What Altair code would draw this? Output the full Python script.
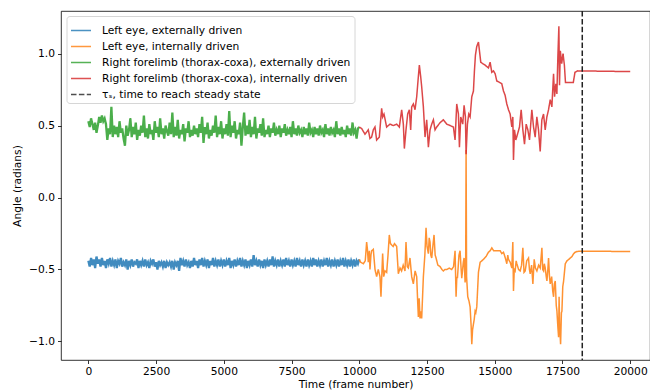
import altair as alt
import pandas as pd

SERIES = [
    "Left eye, externally driven",
    "Left eye, internally driven",
    "Right forelimb (thorax-coxa), externally driven",
    "Right forelimb (thorax-coxa), internally driven",
    "τₛ, time to reach steady state",
]
COLORS = ["#1f77b4", "#ff7f0e", "#2ca02c", "#d62728", "#222222"]
DASHES = [[1, 0], [1, 0], [1, 0], [1, 0], [5.5, 2.4]]

# externally driven part, sampled every 50 frames from 0 to 10000
ext_frames = list(range(0, 10001, 50))

green_ext = [
    0.53, 0.49, 0.55, 0.51, 0.47, 0.52, 0.45, 0.50, 0.56, 0.52, 0.57, 0.53, 0.55, 0.51, 0.40, 0.48, 0.44, 0.63, 0.42, 0.50,
    0.44, 0.49, 0.42, 0.53, 0.45, 0.48, 0.41, 0.36, 0.50, 0.43, 0.47, 0.55, 0.42, 0.49, 0.44, 0.52, 0.40, 0.47, 0.43, 0.50,
    0.45, 0.57, 0.42, 0.48, 0.41, 0.51, 0.44, 0.47, 0.40, 0.53, 0.45, 0.49, 0.42, 0.55, 0.44, 0.48, 0.41, 0.50, 0.46, 0.43,
    0.52, 0.44, 0.59, 0.42, 0.49, 0.43, 0.54, 0.41, 0.47, 0.44, 0.51, 0.39, 0.48, 0.45, 0.53, 0.42, 0.47, 0.43, 0.50, 0.44,
    0.48, 0.42, 0.51, 0.45, 0.56, 0.38, 0.49, 0.44, 0.52, 0.41, 0.47, 0.43, 0.50, 0.45, 0.57, 0.42, 0.49, 0.44, 0.53, 0.41,
    0.48, 0.44, 0.51, 0.43, 0.60, 0.42, 0.50, 0.45, 0.53, 0.41, 0.47, 0.44, 0.52, 0.36, 0.49, 0.59, 0.43, 0.50, 0.44, 0.54,
    0.42, 0.49, 0.44, 0.56, 0.41, 0.48, 0.45, 0.51, 0.43, 0.55, 0.42, 0.47, 0.44, 0.50, 0.42, 0.48, 0.45, 0.52, 0.43, 0.47,
    0.44, 0.50, 0.42, 0.48, 0.45, 0.51, 0.43, 0.47, 0.44, 0.49, 0.42, 0.53, 0.44, 0.48, 0.43, 0.50, 0.45, 0.47, 0.42, 0.49,
    0.44, 0.48, 0.43, 0.52, 0.45, 0.47, 0.42, 0.49, 0.44, 0.48, 0.43, 0.50, 0.45, 0.47, 0.42, 0.51, 0.44, 0.48, 0.43, 0.49,
    0.45, 0.47, 0.42, 0.53, 0.44, 0.48, 0.43, 0.49, 0.44, 0.47, 0.42, 0.50, 0.44, 0.48, 0.43, 0.52, 0.45, 0.47, 0.41, 0.48,
    0.49,
]

blue_ext = [
    -0.44, -0.48, -0.42, -0.47, -0.43, -0.49, -0.41, -0.46, -0.43, -0.48, -0.42, -0.47, -0.44, -0.49, -0.43, -0.46, -0.42, -0.48, -0.44, -0.47,
    -0.43, -0.49, -0.44, -0.46, -0.42, -0.48, -0.45, -0.47, -0.43, -0.50, -0.44, -0.47, -0.43, -0.48, -0.45, -0.46, -0.43, -0.49, -0.44, -0.47,
    -0.44, -0.48, -0.43, -0.47, -0.45, -0.49, -0.44, -0.46, -0.43, -0.48, -0.45, -0.50, -0.44, -0.47, -0.45, -0.48, -0.44, -0.49, -0.45, -0.47,
    -0.45, -0.48, -0.44, -0.50, -0.45, -0.47, -0.44, -0.51, -0.42, -0.47, -0.44, -0.48, -0.43, -0.47, -0.45, -0.49, -0.44, -0.48, -0.42, -0.47,
    -0.44, -0.49, -0.43, -0.47, -0.42, -0.48, -0.44, -0.47, -0.43, -0.49, -0.44, -0.47, -0.42, -0.48, -0.44, -0.47, -0.43, -0.48, -0.44, -0.47,
    -0.43, -0.48, -0.44, -0.47, -0.42, -0.49, -0.44, -0.47, -0.43, -0.48, -0.44, -0.47, -0.42, -0.48, -0.44, -0.47, -0.43, -0.49, -0.44, -0.47,
    -0.43, -0.48, -0.40, -0.47, -0.44, -0.48, -0.43, -0.47, -0.44, -0.49, -0.43, -0.47, -0.44, -0.48, -0.43, -0.47, -0.41, -0.48, -0.44, -0.47,
    -0.43, -0.48, -0.44, -0.47, -0.43, -0.48, -0.42, -0.47, -0.44, -0.48, -0.43, -0.47, -0.44, -0.48, -0.42, -0.47, -0.44, -0.48, -0.43, -0.47,
    -0.44, -0.48, -0.43, -0.47, -0.44, -0.48, -0.42, -0.47, -0.43, -0.48, -0.44, -0.47, -0.43, -0.48, -0.44, -0.47, -0.42, -0.48, -0.44, -0.47,
    -0.43, -0.48, -0.44, -0.47, -0.43, -0.48, -0.44, -0.47, -0.42, -0.48, -0.44, -0.47, -0.43, -0.48, -0.44, -0.47, -0.43, -0.48, -0.44, -0.46,
    -0.43,
]

# internally driven part
orange_frames = [
    10000, 10050, 10150, 10220, 10271, 10300, 10332, 10370, 10394, 10430, 10455, 10517, 10580, 10640, 10700, 10763, 10800, 10862,
    10900, 10948, 11010, 11060, 11108, 11150, 11195, 11250, 11300, 11380, 11441, 11503, 11560, 11620, 11687, 11724, 11770, 11811,
    11870, 11934, 11995, 12060, 12119, 12150, 12180, 12210, 12242, 12270, 12303, 12365, 12420, 12464, 12500, 12550, 12580, 12611,
    12640, 12673, 12720, 12759, 12800, 12833, 12900, 12981, 13050, 13104, 13160, 13227, 13320, 13412, 13480, 13535, 13572, 13600,
    13622, 13680, 13720, 13760, 13782, 13840, 13868, 13905, 13925, 13942, 13960, 14004, 14050, 14090, 14130, 14152, 14180, 14213,
    14240, 14275, 14300, 14336, 14398, 14460, 14583, 14680, 14767, 14830, 14891, 14960, 15075, 15199, 15260, 15322, 15390, 15445,
    15480, 15507, 15570, 15630, 15667, 15691, 15720, 15753, 15790, 15815, 15880, 15938, 15990, 16037, 16080, 16123, 16180, 16246,
    16280, 16308, 16360, 16407, 16456, 16500, 16555, 16620, 16678, 16740, 16770, 16802, 16830, 16863, 16900, 16925, 16960, 16986,
    17020, 17048, 17100, 17140, 17171, 17200, 17233, 17270, 17295, 17330, 17356, 17375, 17393, 17430, 17460, 17479, 17510, 17541,
    17603, 17664, 17730, 17788, 17850, 17911, 17970, 18034, 18158, 20000,
]
orange_vals = [
    -0.43, -0.45, -0.46, -0.44, -0.31, -0.36, -0.45, -0.37, -0.50, -0.40, -0.37, -0.36, -0.50, -0.55, -0.50, -0.55, -0.69, -0.39,
    -0.55, -0.51, -0.52, -0.40, -0.26, -0.32, -0.33, -0.34, -0.32, -0.34, -0.53, -0.49, -0.51, -0.47, -0.51, -0.31, -0.48, -0.49,
    -0.42, -0.55, -0.60, -0.51, -0.55, -0.70, -0.83, -0.70, -0.84, -0.79, -0.84, -0.55, -0.40, -0.21, -0.34, -0.39, -0.28, -0.31,
    -0.40, -0.42, -0.33, -0.26, -0.40, -0.42, -0.47, -0.48, -0.50, -0.51, -0.50, -0.50, -0.49, -0.50, -0.48, -0.37, -0.69, -0.55,
    -0.56, -0.40, -0.37, -0.50, -0.56, -0.45, -0.42, -0.59, -0.55, 0.33, -0.55, -0.69, -0.72, -0.76, -0.90, -1.02, -0.92, -0.88,
    -0.85, -0.79, -0.80, -0.76, -0.52, -0.45, -0.43, -0.41, -0.38, -0.37, -0.35, -0.37, -0.37, -0.37, -0.39, -0.38, -0.42, -0.46,
    -0.40, -0.43, -0.45, -0.49, -0.31, -0.65, -0.50, -0.51, -0.44, -0.46, -0.50, -0.51, -0.47, -0.35, -0.52, -0.51, -0.44, -0.42,
    -0.50, -0.53, -0.47, -0.60, -0.43, -0.49, -0.51, -0.47, -0.49, -0.35, -0.50, -0.51, -0.46, -0.49, -0.55, -0.58, -0.50, -0.42,
    -0.55, -0.60, -0.55, -0.65, -0.69, -0.60, -0.58, -0.75, -0.79, -0.90, -0.97, -0.69, -0.88, -1.02, -0.80, -0.79, -0.62, -0.58,
    -0.46, -0.44, -0.43, -0.42, -0.41, -0.39, -0.38, -0.375, -0.373, -0.375,
]

red_frames = [
    10000, 10086, 10209, 10332, 10394, 10455, 10517, 10579, 10640, 10739, 10825, 10862, 10911, 11010, 11133, 11256, 11380, 11478,
    11564, 11626, 11663, 11724, 11786, 11848, 11897, 11934, 11995, 12057, 12119, 12180, 12217, 12266, 12303, 12365, 12427, 12488,
    12550, 12611, 12673, 12735, 12796, 12858, 12981, 13104, 13227, 13351, 13474, 13535, 13597, 13659, 13696, 13745, 13819, 13868,
    13917, 13942, 13991, 14041, 14090, 14152, 14213, 14250, 14287, 14336, 14398, 14435, 14484, 14558, 14644, 14706, 14767, 14829,
    14891, 14952, 15014, 15075, 15174, 15260, 15322, 15383, 15445, 15507, 15568, 15630, 15667, 15691, 15728, 15778, 15839, 15913,
    15975, 16037, 16098, 16160, 16221, 16283, 16369, 16431, 16492, 16554, 16615, 16677, 16738, 16800, 16862, 16923, 16985, 17047,
    17108, 17170, 17207, 17256, 17293, 17330, 17367, 17390, 17420, 17470, 17520, 17570, 17610, 17900, 17960, 18050, 20000,
]
red_vals = [
    0.49, 0.48, 0.44, 0.47, 0.41, 0.42, 0.47, 0.49, 0.40, 0.42, 0.62, 0.56, 0.58, 0.49, 0.51, 0.50, 0.51, 0.49,
    0.61, 0.51, 0.34, 0.47, 0.58, 0.61, 0.47, 0.63, 0.65, 0.61, 0.70, 0.84, 0.92, 0.84, 0.77, 0.63, 0.42, 0.54,
    0.35, 0.47, 0.51, 0.54, 0.47, 0.49, 0.52, 0.54, 0.51, 0.50, 0.49, 0.40, 0.65, 0.58, 0.35, 0.56, 0.51, 0.64,
    0.56, 0.30, 0.51, 0.58, 0.56, 0.70, 0.74, 0.88, 0.99, 1.05, 1.08, 1.02, 0.94, 0.93, 0.92, 0.91, 0.90, 0.94,
    0.87, 0.88, 0.86, 0.81, 0.80, 0.79, 0.74, 0.71, 0.65, 0.61, 0.58, 0.49, 0.56, 0.26, 0.47, 0.40, 0.44, 0.49,
    0.61, 0.47, 0.37, 0.51, 0.47, 0.40, 0.61, 0.49, 0.42, 0.56, 0.47, 0.32, 0.54, 0.58, 0.47, 0.56, 0.61, 0.68,
    0.63, 0.86, 0.70, 0.79, 0.72, 0.98, 1.19, 0.78, 1.02, 0.93, 1.00, 0.92, 0.80, 0.80, 0.87, 0.88, 0.875,
]

steady_state_frame = [18230]

x_ticks = [0, 2500, 5000, 7500, 10000, 12500, 15000, 17500, 20000]
y_ticks = [-1.0, -0.5, 0.0, 0.5, 1.0]

rows = []
for f, v in zip(ext_frames, blue_ext):
    rows.append({"frame": f, "angle": v, "series": SERIES[0], "w": "ext"})
for f, v in zip(orange_frames, orange_vals):
    rows.append({"frame": f, "angle": v, "series": SERIES[1], "w": "int"})
for f, v in zip(ext_frames, green_ext):
    rows.append({"frame": f, "angle": v, "series": SERIES[2], "w": "ext"})
for f, v in zip(red_frames, red_vals):
    rows.append({"frame": f, "angle": v, "series": SERIES[3], "w": "int"})
lines_df = pd.DataFrame(rows)
rule_df = pd.DataFrame({"frame": steady_state_frame, "series": [SERIES[4]]})

FS = 10.7
color_scale = alt.Scale(domain=SERIES, range=COLORS)
dash_scale = alt.Scale(domain=SERIES, range=DASHES)
legend = alt.Legend(
    title=None, orient="none", legendX=5.5, legendY=5,
    symbolType="stroke", symbolSize=400, symbolStrokeWidth=1.5, symbolOpacity=0.8,
    labelFont="DejaVu Sans", labelFontSize=FS, labelColor="black",
    labelOffset=10, rowPadding=-12, padding=3.5, labelLimit=400,
    fillColor="white", strokeColor="#d6d6d6", cornerRadius=3,
)

x_enc = alt.X(
    "frame:Q",
    scale=alt.Scale(domain=[-1010, 20730], nice=False, zero=False),
    axis=alt.Axis(values=x_ticks, format="d", title="Time (frame number)"),
)

lines = alt.Chart(lines_df).mark_line(opacity=0.85).encode(
    x=x_enc,
    y=alt.Y(
        "angle:Q",
        scale=alt.Scale(domain=[-1.129, 1.296], nice=False, zero=False),
        axis=alt.Axis(
            values=y_ticks, format=".1f", title="Angle (radians)",
            labelExpr="replace(datum.label, '-', '\u2212')",
        ),
    ),
    color=alt.Color("series:N", scale=color_scale, legend=legend, sort=SERIES),
    strokeDash=alt.StrokeDash("series:N", scale=dash_scale, legend=legend, sort=SERIES),
    strokeWidth=alt.StrokeWidth("w:N", scale=alt.Scale(domain=["ext", "int"], range=[2.3, 1.5]), legend=None),
    order=alt.Order("frame:Q"),
)

rule = alt.Chart(rule_df).mark_rule(strokeWidth=1.5).encode(
    x=alt.X("frame:Q"),
    color=alt.Color("series:N", scale=color_scale, legend=legend, sort=SERIES),
    strokeDash=alt.StrokeDash("series:N", scale=dash_scale, legend=legend, sort=SERIES),
)

chart = (
    alt.layer(lines, rule)
    .properties(
        width=589, height=349,
        autosize=alt.AutoSizeParams(type="none"),
        padding={"left": 61, "top": 11, "right": 0, "bottom": 30},
        background="white",
    )
    .configure_view(stroke="black", strokeWidth=0.8)
    .configure_axis(
        grid=False, domain=False,
        labelFont="DejaVu Sans", labelFontSize=FS, labelColor="black",
        titleFont="DejaVu Sans", titleFontSize=FS, titleFontWeight="normal", titleColor="black",
        tickColor="black", tickSize=3.5, tickWidth=0.8, labelPadding=3,
    )
    .configure_axisX(titlePadding=3)
    .configure_axisY(titlePadding=6)
)

chart.save("out.html", embed_options={"renderer": "svg", "actions": False})
